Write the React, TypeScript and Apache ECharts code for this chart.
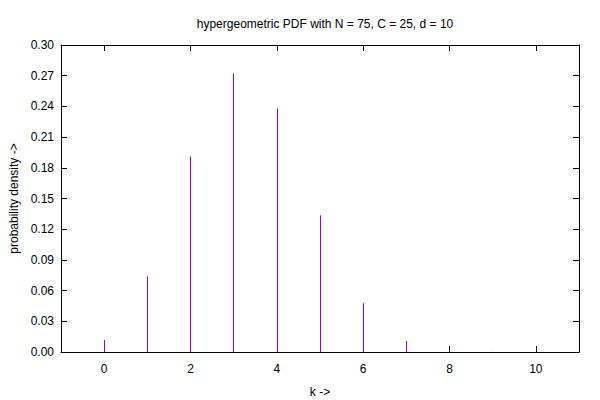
import React, { useEffect, useRef } from "react";
import * as echarts from "echarts";

const kValues = [0, 1, 2, 3, 4, 5, 6, 7, 8, 9, 10];
const pdfValues = [0.0117, 0.074, 0.191, 0.2723, 0.238, 0.1336, 0.0476, 0.0108, 0.0016, 0.0001, 0.0];
const xTicks = [0, 2, 4, 6, 8, 10];
const titleText = "hypergeometric PDF with N = 75, C = 25, d = 10";
const xName = "k ->";
const yName = "probability density ->";

const FONT = "'Liberation Sans', Arial, sans-serif";

function crisp(pos: number) {
  const d = Math.round(pos * 2);
  return d % 2 !== 0 ? d / 2 : (d + 1) / 2;
}

export default function App() {
  const ref = useRef<HTMLDivElement>(null);
  useEffect(() => {
    if (!ref.current) return;
    const chart = echarts.init(ref.current, undefined, { renderer: "svg" });
    const lineStyle = { color: "#000", width: 1 };
    const tick = { show: true, inside: true, length: 6, lineStyle };
    chart.setOption({
      animation: false,
      backgroundColor: "#fff",
      textStyle: { fontFamily: FONT },
      title: {
        text: titleText,
        left: 320,
        top: 13,
        textAlign: "center",
        textStyle: { fontFamily: FONT, fontSize: 12, fontWeight: "normal", color: "#000" },
      },
      grid: {
        left: 61,
        right: 21,
        top: 45,
        bottom: 48,
        containLabel: false,
        outerBoundsMode: "none",
      },
      xAxis: [
        {
          type: "value",
          min: -1,
          max: 11,
          position: "bottom",
          z: 0,
          axisLine: { show: true, onZero: false, lineStyle },
          axisTick: { ...tick, customValues: xTicks },
          axisLabel: {
            customValues: xTicks,
            margin: 11,
            color: "#000",
            fontSize: 12,
            fontFamily: FONT,
          },
          splitLine: { show: false },
          name: xName,
          nameLocation: "middle",
          nameGap: 34,
          nameTextStyle: { color: "#000", fontSize: 12, fontFamily: FONT },
        },
        {
          type: "value",
          min: -1,
          max: 11,
          position: "top",
          z: 0,
          axisLine: { show: true, onZero: false, lineStyle },
          axisTick: { ...tick, customValues: xTicks },
          axisLabel: { show: false },
          splitLine: { show: false },
        },
      ],
      yAxis: [
        {
          type: "value",
          min: 0,
          max: 0.3,
          interval: 0.03,
          position: "left",
          z: 0,
          axisLine: { show: true, onZero: false, lineStyle },
          axisTick: tick,
          axisLabel: {
            margin: 7,
            color: "#000",
            fontSize: 12,
            fontFamily: FONT,
            formatter: (v: number) => v.toFixed(2),
          },
          splitLine: { show: false },
          name: yName,
          nameLocation: "middle",
          nameGap: 40,
          nameRotate: 90,
          nameTextStyle: { color: "#000", fontSize: 12, fontFamily: FONT },
        },
        {
          type: "value",
          min: 0,
          max: 0.3,
          interval: 0.03,
          position: "right",
          z: 0,
          axisLine: { show: true, onZero: false, lineStyle },
          axisTick: tick,
          axisLabel: { show: false },
          splitLine: { show: false },
        },
      ],
      series: [
        {
          type: "custom",
          xAxisIndex: 0,
          yAxisIndex: 0,
          z: 10,
          clip: false,
          data: kValues.map((k, i) => [k, pdfValues[i]]),
          renderItem: (params: any, api: any) => {
            const base = api.coord([api.value(0), 0]);
            const top = api.coord([api.value(0), api.value(1)]);
            const x = crisp(base[0]);
            return {
              type: "line",
              z2: 100,
              shape: { x1: x, y1: base[1], x2: x, y2: top[1] },
              style: { stroke: "#9400D3", lineWidth: 1 },
            };
          },
        },
      ],
    });
    return () => chart.dispose();
  }, []);
  return (
    <div
      ref={ref}
      style={{ position: "fixed", left: 0, top: 0, width: 600, height: 400 }}
    />
  );
}
